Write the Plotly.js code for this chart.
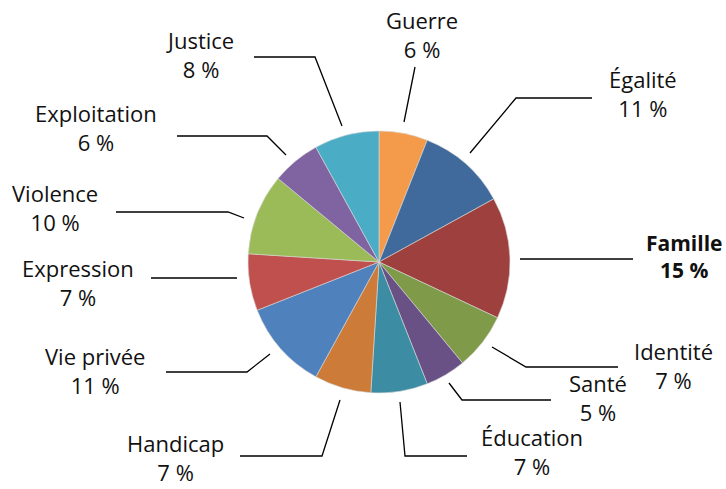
<!DOCTYPE html>
<html>
<head>
<meta charset="utf-8">
<script src="https://cdn.plot.ly/plotly-3.0.1.min.js"></script>
<style>html,body{margin:0;padding:0;background:#fff;}#chart{width:726px;height:489px;}</style>
</head>
<body>
<div id="chart"></div>
<script>
// Data
const categories = ["Guerre","Égalité","Famille","Identité","Santé","Éducation","Handicap","Vie privée","Expression","Violence","Exploitation","Justice"];
const values = [6,11,15,7,5,7,7,11,7,10,6,8];
const colors = ["#F39A4B","#416A9C","#9E413E","#7F9A48","#695185","#3C8DA3","#CC7B38","#4F81BD","#C0504D","#9BBB59","#8064A2","#4BACC6"];
const highlighted = ["Famille"];

// Layout: label centres (pixels) and leader-line paths (pixels)
const labelPos = [
  [422,34],[643,93],[684,256],[673,365],[598,397],[532,451],
  [175,457],[95,370],[78,282],[55,207],[96,127],[200,54]
];
const leaders = [
  [[404,122],[415,67]],
  [[470,153],[516,98],[592,98]],
  [[520,259],[633,259]],
  [[492,347],[526,367],[618,367]],
  [[449,383],[462,400],[551,400]],
  [[400,402],[405,456],[467,456]],
  [[340,400],[322,456],[240,456]],
  [[270,354],[247,372],[166,372]],
  [[237,278],[151,278]],
  [[244,218],[228,212],[116,212]],
  [[286,155],[267,136],[177,136]],
  [[342,126],[315,57],[254,57]]
];

const W = 726, H = 489;
const px = x => x / W, py = y => 1 - y / H;
const cx = 379, cy = 262, r = 131;

const total = values.reduce((a,b)=>a+b,0);
const annotations = categories.map((c,i) => {
  const pct = Math.round(values[i] / total * 100) + " %";
  const bold = highlighted.includes(c);
  return {
    x: px(labelPos[i][0]), y: py(labelPos[i][1]), xref:'paper', yref:'paper',
    text: bold ? "<b>"+c+"<br>"+pct+"</b>" : c+"<br>"+pct,
    showarrow:false, xanchor:'center', yanchor:'middle', align:'center',
    font:{family:'"Open Sans", sans-serif', size: bold ? 21 : 22, color:'#111'}
  };
});
const shapes = leaders.map(pts => ({
  type:'path', xref:'paper', yref:'paper',
  path: pts.map((p,j)=> (j?'L':'M') + px(p[0]) + ',' + py(p[1])).join(' '),
  line:{color:'#000', width:1.3}
}));

const trace = {
  type:'pie', labels:categories, values:values, sort:false, direction:'clockwise', rotation:0,
  marker:{colors:colors, line:{color:'#d8d8d8', width:0.6}},
  textinfo:'none', hoverinfo:'label+percent',
  domain:{x:[px(cx-r), px(cx+r)], y:[py(cy+r), py(cy-r)]}
};
Plotly.newPlot('chart', [trace], {
  width:W, height:H, margin:{l:0,r:0,t:0,b:0}, showlegend:false,
  paper_bgcolor:'#fff', annotations:annotations, shapes:shapes
}, {displayModeBar:false, staticPlot:true});
</script>
</body>
</html>
